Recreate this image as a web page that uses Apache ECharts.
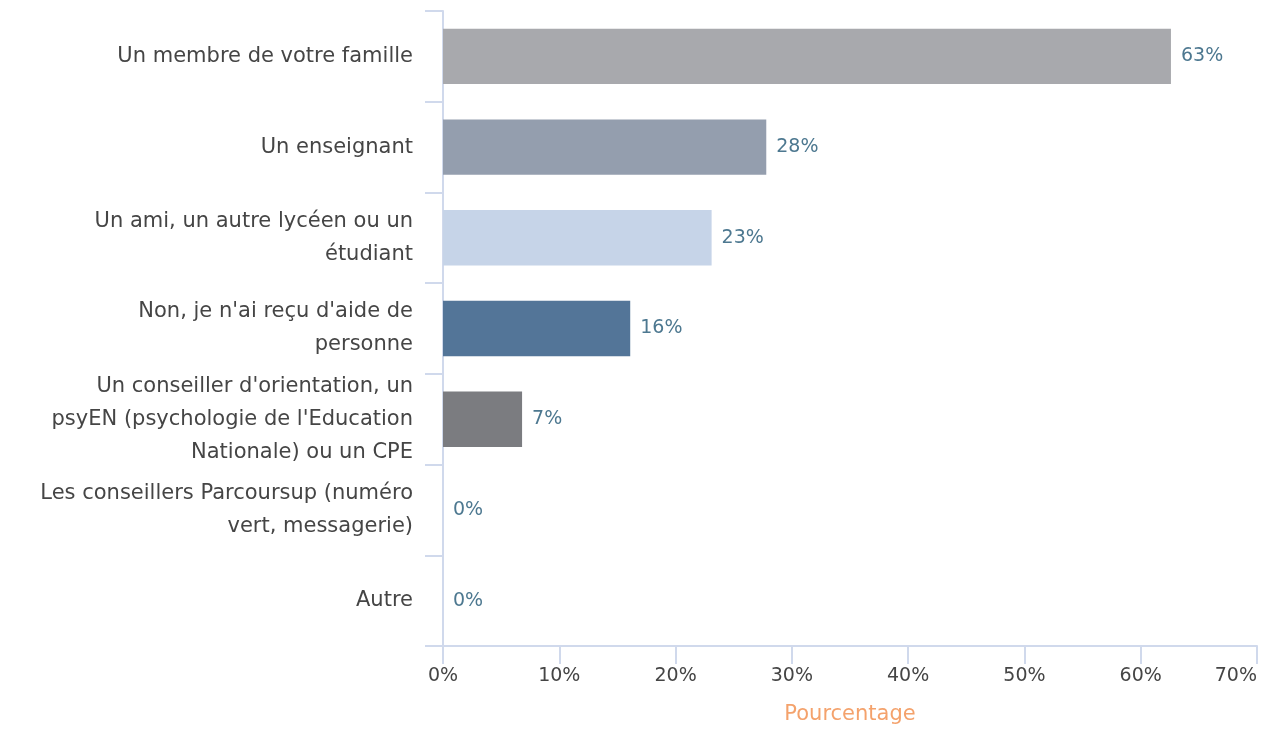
<!DOCTYPE html>
<html>
<head>
<meta charset="utf-8">
<script src="https://cdn.jsdelivr.net/npm/echarts@6/dist/echarts.min.js"></script>
<style>
  html, body { margin: 0; padding: 0; background: #fff; overflow: hidden; }
  #chart { width: 1271px; height: 729px; }
</style>
</head>
<body>
<div id="chart"></div>
<script>
// données
const categories = [
  'Un membre de votre famille',
  'Un enseignant',
  'Un ami, un autre lycéen ou un\nétudiant',
  'Non, je n\'ai reçu d\'aide de\npersonne',
  'Un conseiller d\'orientation, un\npsyEN (psychologie de l\'Education\nNationale) ou un CPE',
  'Les conseillers Parcoursup (numéro\nvert, messagerie)',
  'Autre'
];
const values = [62.6, 27.8, 23.1, 16.1, 6.8, 0, 0];
const barColors = ['#a8a9ad', '#949eae', '#c6d4e8', '#537598', '#7b7c80', '#a8a9ad', '#a8a9ad'];
const xTicks = [0, 10, 20, 30, 40, 50, 60, 70];

const fontFam = '"DejaVu Sans", "Noto Sans", sans-serif';
const axisColor = '#d0d9ec';

const chart = echarts.init(document.getElementById('chart'));

const option = {
  animation: false,
  grid: { left: 443, right: 14, top: 11, bottom: 83, containLabel: false, outerBoundsMode: 'none' },
  xAxis: {
    type: 'value',
    min: xTicks[0],
    max: xTicks[xTicks.length - 1],
    interval: 10,
    name: 'Pourcentage',
    nameLocation: 'middle',
    nameGap: 58,
    nameTextStyle: { color: '#f4a26c', fontSize: 21, fontFamily: fontFam },
    axisLine: { show: true, lineStyle: { color: axisColor, width: 2 } },
    axisTick: { show: true, length: 18, lineStyle: { color: axisColor, width: 2 } },
    axisLabel: {
      formatter: v => v + '%',
      color: '#454545',
      fontSize: 19,
      fontFamily: fontFam,
      margin: 21,
      alignMaxLabel: 'right'
    },
    splitLine: { show: false }
  },
  yAxis: {
    type: 'category',
    inverse: true,
    data: categories,
    axisLine: { show: true, lineStyle: { color: axisColor, width: 2 } },
    axisTick: { show: true, length: 18, lineStyle: { color: axisColor, width: 2 } },
    axisLabel: {
      color: '#454545',
      fontSize: 21,
      lineHeight: 33,
      fontFamily: fontFam,
      margin: 30,
      align: 'right',
      padding: [6, 0, 0, 0]
    }
  },
  series: [{
    type: 'bar',
    barCategoryGap: '39%',
    data: values.map((v, i) => ({ value: v, itemStyle: { color: barColors[i] } })),
    label: {
      show: true,
      position: 'right',
      distance: 10,
      formatter: p => Math.round(p.value) + '%',
      color: '#4d7890',
      fontSize: 19,
      fontFamily: fontFam,
      padding: [6, 0, 0, 0]
    }
  }]
};

chart.setOption(option);
</script>
</body>
</html>
